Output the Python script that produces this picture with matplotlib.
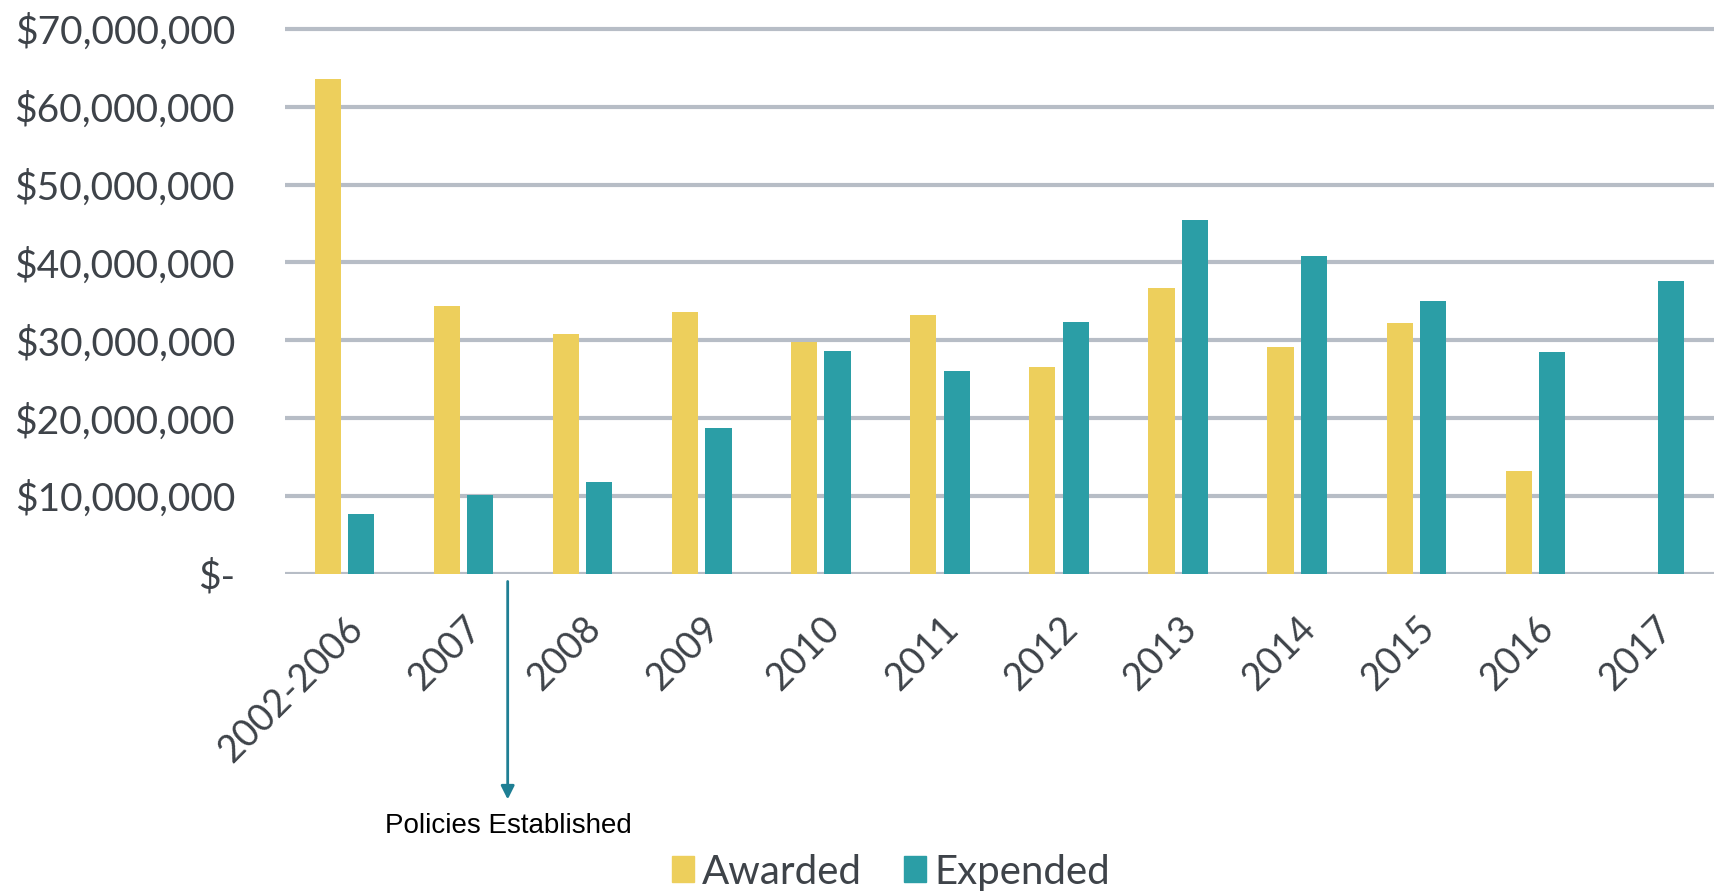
import matplotlib
matplotlib.use('Agg')
import matplotlib.pyplot as plt
import matplotlib.ticker as mticker
from matplotlib.patches import Patch
import numpy as np

# values (dollars)
years = ['2002-2006', '2007', '2008', '2009', '2010', '2011',
         '2012', '2013', '2014', '2015', '2016', '2017']
awarded = [63.6e6, 34.4e6, 30.8e6, 33.6e6, 29.8e6, 33.3e6,
           26.6e6, 36.7e6, 29.1e6, 32.2e6, 13.2e6, 0]
expended = [7.7e6, 10.1e6, 11.8e6, 18.7e6, 28.6e6, 26.1e6,
            32.3e6, 45.5e6, 40.8e6, 35.1e6, 28.5e6, 37.6e6]
yticks = [0, 10e6, 20e6, 30e6, 40e6, 50e6, 60e6, 70e6]

YELLOW = '#EDCF5C'
TEAL = '#2B9EA6'
GRID = '#B7BDC6'
TEXT = '#3E4349'

W, H = 1714, 896
fig = plt.figure(figsize=(W / 100, H / 100), dpi=100)
ax_left, ax_bottom = 285 / W, (H - 574) / H
ax_top = (H - 26) / H
ax = fig.add_axes([ax_left, ax_bottom, 1 - ax_left, ax_top - ax_bottom])

x = np.arange(len(years))
bw = 0.22
ax.bar(x - 0.14, awarded, bw, color=YELLOW, zorder=3)
ax.bar(x + 0.14, expended, bw, color=TEAL, zorder=3)

ax.set_xlim(-0.5, len(years) - 0.5)
# a bit of head room so the top gridline isn't clipped
ax.set_ylim(0, 70e6 * (574 - 26) / (574 - 28.7))
ax.set_yticks(yticks)
ax.yaxis.set_major_formatter(mticker.FuncFormatter(
    lambda v, p: '$-' if v == 0 else f'${v:,.0f}'))
ax.grid(axis='y', color=GRID, linewidth=3, zorder=0)
for s in ax.spines.values():
    s.set_visible(False)
ax.tick_params(axis='y', length=0, pad=36, labelsize=28, labelcolor=TEXT)
ax.tick_params(axis='x', length=0, pad=26, labelsize=27, labelcolor=TEXT)
for lbl in ax.get_yticklabels():
    lbl.set_fontfamily('Lato')
ax.set_xticks(x)
ax.set_xticklabels(years, rotation=45, ha='right', rotation_mode='anchor',
                   fontfamily='Lato')

# annotation arrow below the axis
ax.annotate('', xy=(1.37, -29.3e6), xytext=(1.37, -0.6e6),
            xycoords='data', textcoords='data', annotation_clip=False,
            arrowprops=dict(arrowstyle='-|>', color='#1F7F94', lw=2,
                            mutation_scale=20))
fig.text(508 / W, 1 - 826 / H, 'Policies Established', ha='center',
         va='center', fontsize=20, fontfamily='Liberation Sans', color='black')

handles = [Patch(color=YELLOW, label='Awarded'),
           Patch(color=TEAL, label='Expended')]
leg = fig.legend(handles=handles, loc='center', ncol=2,
                 bbox_to_anchor=(891 / W, 1 - 872 / H), frameon=False,
                 prop={'family': 'Lato', 'size': 29}, handlelength=0.55,
                 handleheight=0.62, handletextpad=0.2, columnspacing=1.05)
for t in leg.get_texts():
    t.set_color(TEXT)

fig.savefig('out.png', dpi=100, facecolor='white')
